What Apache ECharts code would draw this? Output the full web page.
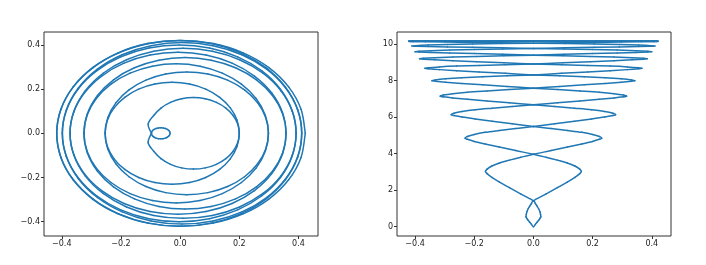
<!DOCTYPE html>
<html><head><meta charset="utf-8">
<script src="https://cdn.jsdelivr.net/npm/echarts@6/dist/echarts.min.js"></script>
<style>html,body{margin:0;padding:0;background:#fff}#c{width:706px;height:265px}</style>
</head><body><div id="c"></div>
<script>
// One strand (t >= 0) of the curve:
// x, y (left panel) and height h (right panel). Rows = successive half-turns.
const strandX = [
 -0.034,-0.0351,-0.0382,-0.0432,-0.0498,-0.0574,-0.0655,-0.0737,-0.0813,-0.0878,-0.0928,-0.0959,
 -0.097,-0.108,-0.0892,-0.0646,-0.0325,0.0049,0.045,0.0851,0.1225,0.1546,0.1792,0.1947,
 0.200,0.1923,0.1696,0.1336,0.0866,0.0319,-0.0268,-0.0855,-0.1401,-0.1871,-0.2231,-0.2458,
 -0.2535,-0.2441,-0.2165,-0.1727,-0.1155,-0.0489,0.0225,0.0939,0.1605,0.2177,0.2615,0.2891,
 0.2985,0.2879,0.2567,0.2072,0.1426,0.0674,-0.0133,-0.094,-0.1691,-0.2337,-0.2832,-0.3144,
 -0.325,-0.3134,-0.2792,-0.225,-0.1543,-0.0719,0.0165,0.1049,0.1873,0.258,0.3122,0.3464,
 0.358,0.3456,0.3091,0.2511,0.1755,0.0875,-0.007,-0.1015,-0.1895,-0.2651,-0.3231,-0.3596,
 -0.372,-0.359,-0.3208,-0.2601,-0.181,-0.0889,0.01,0.1089,0.201,0.2801,0.3408,0.379,
 0.392,0.3785,0.3391,0.2763,0.1945,0.0992,-0.003,-0.1052,-0.2005,-0.2823,-0.3451,-0.3845,
 -0.398,-0.3842,-0.3438,-0.2795,-0.1958,-0.0982,0.0065,0.1112,0.2088,0.2925,0.3568,0.3972,
 0.411,0.3969,0.3555,0.2897,0.204,0.1041,-0.003,-0.1101,-0.21,-0.2957,-0.3615,-0.4029,
 -0.417,-0.4027,-0.3607,-0.294,-0.207,-0.1057,0.003,0.1117,0.213,0.3,0.3667,0.4087,0.423];
const strandY = [
 0,0.0065,0.0125,0.0177,0.0217,0.0241,0.025,0.0241,0.0217,0.0177,0.0125,0.0065,
 0,-0.0419,-0.081,-0.1146,-0.1403,-0.1565,-0.162,-0.1565,-0.1403,-0.1146,-0.081,-0.0419,
 0,0.0598,0.1155,0.1633,0.2,0.2231,0.231,0.2231,0.2,0.1633,0.1155,0.0598,
 0,-0.0719,-0.139,-0.1966,-0.2408,-0.2685,-0.278,-0.2685,-0.2408,-0.1966,-0.139,-0.0719,
 0,0.0815,0.1575,0.2227,0.2728,0.3043,0.315,0.3043,0.2728,0.2227,0.1575,0.0815,
 0,-0.0888,-0.1715,-0.2425,-0.297,-0.3313,-0.343,-0.3313,-0.297,-0.2425,-0.1715,-0.0888,
 0,0.095,0.1835,0.2595,0.3178,0.3545,0.367,0.3545,0.3178,0.2595,0.1835,0.095,
 0,-0.0996,-0.1925,-0.2722,-0.3334,-0.3719,-0.385,-0.3719,-0.3334,-0.2722,-0.1925,-0.0996,
 0,0.1035,0.2,0.2828,0.3464,0.3864,0.4,0.3864,0.3464,0.2828,0.2,0.1035,
 0,-0.1064,-0.2055,-0.2906,-0.3559,-0.397,-0.411,-0.397,-0.3559,-0.2906,-0.2055,-0.1064,
 0,0.109,0.2105,0.2977,0.3646,0.4067,0.421,0.4067,0.3646,0.2977,0.2105,0.109,
 0,-0.109,-0.2105,-0.2977,-0.3646,-0.4067,-0.421,-0.4067,-0.3646,-0.2977,-0.2105,-0.109,0];
const strandH = [
 0,0.127,0.248,0.352,0.44,0.512,0.55,0.672,0.828,0.985,1.124,1.272,
 1.42,1.788,2.14,2.444,2.70,2.908,3.02,3.153,3.324,3.495,3.647,3.809,
 3.97,4.172,4.366,4.533,4.674,4.788,4.85,4.94,5.055,5.17,5.272,5.381,
 5.49,5.64,5.783,5.906,6.01,6.095,6.14,6.216,6.313,6.41,6.496,6.588,
 6.68,6.788,6.892,6.981,7.056,7.117,7.15,7.212,7.291,7.37,7.44,7.515,
 7.59,7.684,7.775,7.852,7.918,7.971,8.0,8.045,8.102,8.16,8.211,8.266,
 8.32,8.403,8.482,8.55,8.608,8.655,8.68,8.714,8.757,8.80,8.838,8.879,
 8.92,8.984,9.046,9.099,9.144,9.18,9.2,9.228,9.264,9.30,9.332,9.366,
 9.4,9.444,9.486,9.522,9.552,9.577,9.59,9.615,9.648,9.68,9.709,9.739,
 9.77,9.80,9.829,9.853,9.874,9.891,9.9,9.922,9.951,9.98,10.006,10.033,
 10.06,10.081,10.1,10.118,10.132,10.144,10.15,10.154,10.158,10.163,10.167,10.171,
 10.175,10.176,10.177,10.178,10.179,10.18,10.18,10.18,10.18,10.18,10.18,10.18,10.18];
const xTicks = [-0.4,-0.2,0,0.2,0.4];
const yTicksLeft = [-0.4,-0.2,0,0.2,0.4];
const hTicks = [0,2,4,6,8,10];

// The picture is mirror-symmetric: the second strand is the first with y mirrored; joined at t = 0
const n = strandX.length;
const xyData = [], yhData = [];
for (let i = n - 1; i >= 1; i--) { xyData.push([strandX[i], -strandY[i]]); yhData.push([-strandY[i], strandH[i]]); }
for (let i = 0; i < n; i++) { xyData.push([strandX[i], strandY[i]]); yhData.push([strandY[i], strandH[i]]); }

function fmt(v, dec) { return Number(v).toFixed(dec).replace('-', '\u2212'); }
function axis(gridIndex, min, max, ticks, dec) {
  return {
    type: 'value', gridIndex, min, max,
    splitLine: { show: false },
    axisLine: { show: false, onZero: false },
    axisTick: { show: true, inside: false, length: 3, customValues: ticks, lineStyle: { color: '#333', width: 1 } },
    axisLabel: { show: true, customValues: ticks, formatter: v => fmt(v, dec), color: '#222',
      fontFamily: 'DejaVu Sans', fontSize: 8, margin: 4, hideOverlap: false, showMinLabel: true, showMaxLabel: true }
  };
}
// Smooth curve through the data points: each segment is a cubic Bezier placed with the axes' own coord()
function curveSeries(gi, data) {
  return {
    type: 'custom', coordinateSystem: 'cartesian2d', xAxisIndex: gi, yAxisIndex: gi,
    data: data, encode: { x: 0, y: 1 }, clip: true, silent: true,
    renderItem: function (params, api) {
      const i = params.dataIndex;
      if (i >= data.length - 1) return null;
      const at = k => api.coord(data[Math.max(0, Math.min(data.length - 1, k))]);
      const p0 = at(i - 1), p1 = at(i), p2 = at(i + 1), p3 = at(i + 2);
      const s = 1 / 6;
      return {
        type: 'bezierCurve',
        shape: {
          x1: p1[0], y1: p1[1], x2: p2[0], y2: p2[1],
          cpx1: p1[0] + (p2[0] - p0[0]) * s, cpy1: p1[1] + (p2[1] - p0[1]) * s,
          cpx2: p2[0] - (p3[0] - p1[0]) * s, cpy2: p2[1] - (p3[1] - p1[1]) * s
        },
        style: { stroke: '#1f77b4', lineWidth: 1.5, fill: null, lineCap: 'round' }
      };
    }
  };
}
const chart = echarts.init(document.getElementById('c'), null, { renderer: 'canvas' });
const gridStyle = { show: true, borderColor: '#333', borderWidth: 1, backgroundColor: 'transparent' };
chart.setOption({
  animation: false,
  backgroundColor: '#fff',
  grid: [
    Object.assign({ left: 44, top: 32, width: 274, height: 204 }, gridStyle),
    Object.assign({ left: 397, top: 32, width: 274, height: 204 }, gridStyle)
  ],
  xAxis: [axis(0, -0.46, 0.466, xTicks, 1), axis(1, -0.461, 0.465, xTicks, 1)],
  yAxis: [axis(0, -0.465, 0.459, yTicksLeft, 1), axis(1, -0.51, 10.67, hTicks, 0)],
  series: [curveSeries(0, xyData), curveSeries(1, yhData)]
});
</script></body></html>
